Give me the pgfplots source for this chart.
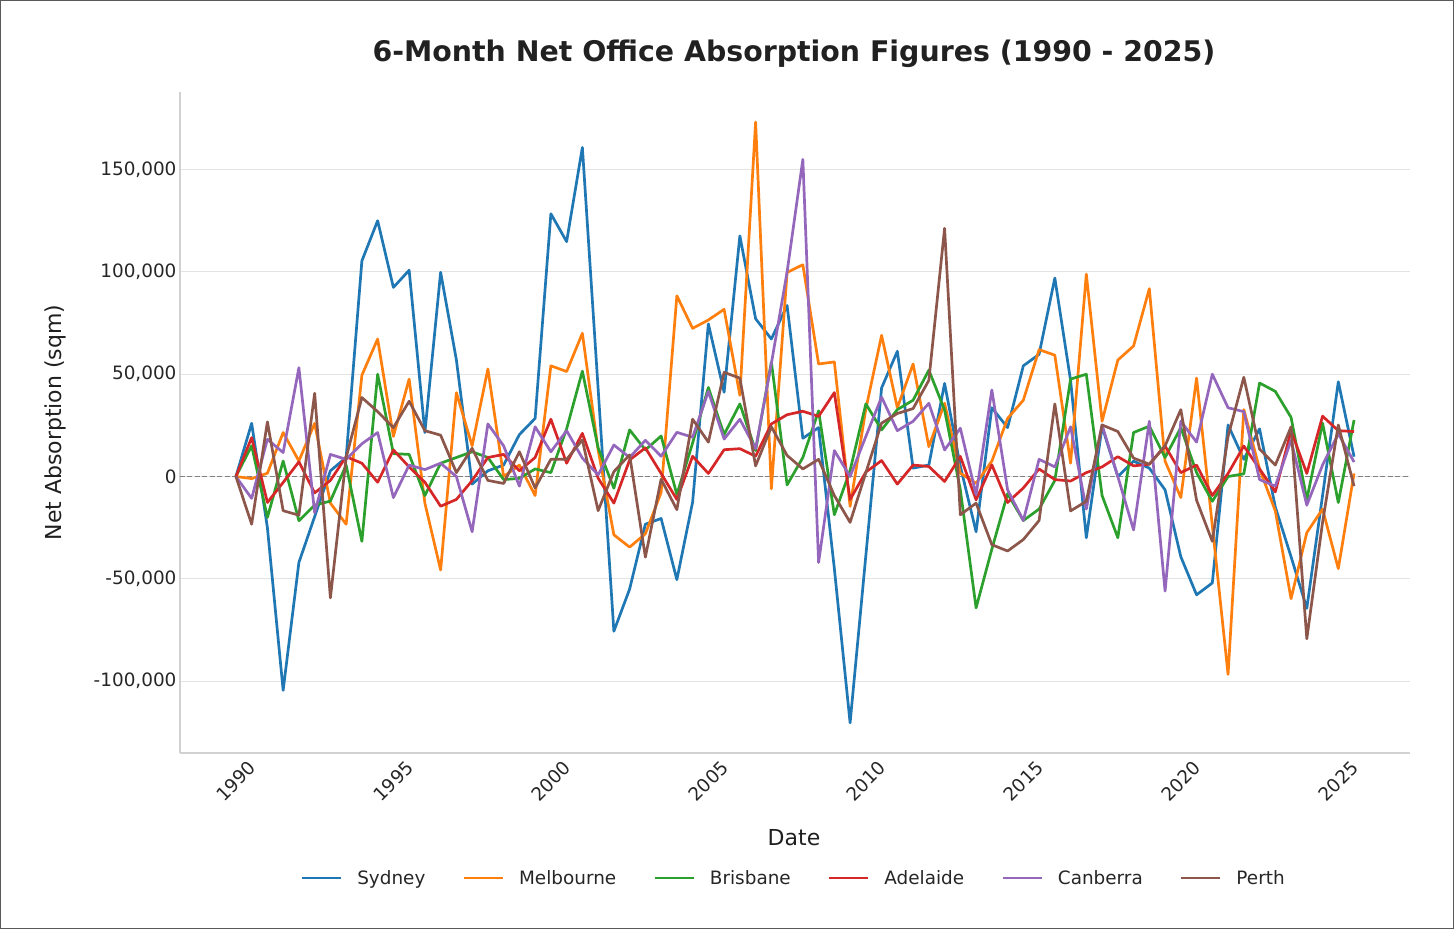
\documentclass[border=0pt]{standalone}
\usepackage{pgfplots}
\pgfplotsset{compat=1.18}
\usepackage{pgfplotstable}
\usepackage{fontspec}
\setmainfont{DejaVu Sans}

\definecolor{cSyd}{HTML}{1F77B4}
\definecolor{cMel}{HTML}{FF7F0E}
\definecolor{cBri}{HTML}{2CA02C}
\definecolor{cAde}{HTML}{D62728}
\definecolor{cCan}{HTML}{9467BD}
\definecolor{cPer}{HTML}{8C564B}

% half-yearly net absorption, sqm
\pgfplotstableread{
year syd mel bri ade can per
1990.0 0 0 0 0 0 0
1990.5 26000 -1000 15000 19000 -10700 -23300
1991.0 -25000 1600 -20000 -12700 18200 26700
1991.5 -104500 21500 7600 -2900 11700 -16700
1992.0 -42000 7600 -21600 7200 53200 -18900
1992.5 -19600 26000 -14000 -8000 -17700 40700
1993.0 2800 -13000 -12000 -1900 10800 -59300
1993.5 9300 -23300 5600 9700 8400 9300
1994.0 105400 49500 -31700 6500 16000 38600
1994.5 125000 67200 50000 -2800 21500 31700
1995.0 92400 19600 11200 13000 -10300 23900
1995.5 100800 47600 10800 4700 5600 36800
1996.0 21500 -13000 -9300 -2800 3400 22400
1996.5 99800 -45700 6500 -14500 6500 20200
1997.0 57000 41000 9300 -11200 0 1900
1997.5 -3700 15000 12100 -2000 -27000 13800
1998.0 2800 52600 9300 9300 25700 -1900
1998.5 5600 0 -1500 10800 15000 -3400
1999.0 20500 5600 -900 2800 -4700 12100
1999.5 28400 -9300 3700 9300 24300 -5600
2000.0 128400 54100 1900 28000 12100 8400
2000.5 114800 51300 23300 6500 22400 8400
2001.0 160800 70000 51500 21100 9000 17900
2001.5 43000 13000 14000 -800 800 -16700
2002.0 -75600 -28500 -5700 -13000 15400 2400
2002.5 -55000 -34500 22800 8100 9300 10600
2003.0 -23300 -28000 13000 14000 17700 -39400
2003.5 -20500 -7800 19800 1500 9900 -1300
2004.0 -50400 88300 -8800 -11200 21600 -16200
2004.5 -12500 72400 16400 9900 19200 28000
2005.0 74600 76500 43500 1500 41600 16800
2005.5 41200 81700 20500 13100 18300 50900
2006.0 117600 39700 35500 13600 28000 48100
2006.5 77100 173200 12700 9900 13600 5200
2007.0 67200 -6000 56000 25700 55200 24300
2007.5 83600 99700 -4100 30200 100000 10300
2008.0 18700 103500 9300 31900 155000 3700
2008.5 23900 55000 32100 29400 -42000 8400
2009.0 -45000 56000 -18700 41000 12700 -9300
2009.5 -120400 -14600 3000 -11200 0 -22400
2010.0 -38600 33000 35500 2200 19600 1900
2010.5 43300 69000 22800 7800 38800 26100
2011.0 61200 33600 32700 -3700 22400 30800
2011.5 4100 55000 37300 5600 27000 33200
2012.0 5600 14600 52000 4900 35800 47000
2012.5 45500 35800 32500 -2400 13000 121300
2013.0 5000 1600 -6500 9800 23600 -18700
2013.5 -27000 -3300 -64200 -11400 -8900 -13000
2014.0 33600 7500 -35500 5700 42300 -33300
2014.5 23900 28400 -8400 -12700 -6500 -36400
2015.0 54100 37300 -21500 -5600 -21500 -30800
2015.5 59700 62000 -15900 3700 8400 -21500
2016.0 97000 59300 -1900 -1500 4700 35500
2016.5 47000 6500 47600 -2200 24300 -16800
2017.0 -29900 98900 50000 1900 -15900 -12100
2017.5 24300 27000 -9300 4700 25200 25200
2018.0 0 56900 -29900 9700 0 22000
2018.5 7500 63800 21500 5200 -26100 9000
2019.0 4100 91800 24600 6000 27000 6000
2019.5 -6500 7500 9300 14900 -56000 15000
2020.0 -39200 -10300 23900 1900 27000 32700
2020.5 -57800 48100 1900 5600 16800 -11600
2021.0 -52000 -24000 -12100 -9300 50000 -31700
2021.5 25200 -96700 0 1500 33600 19600
2022.0 8400 32700 1300 14900 31700 48500
2022.5 23300 3700 45700 3700 -1500 13400
2023.0 -14900 -16800 41600 -7500 -4700 5600
2023.5 -39200 -59700 28900 22400 17700 24300
2024.0 -64400 -27400 -11200 1500 -14000 -79300
2024.5 -9300 -15900 26100 29500 5600 -22400
2025.0 46300 -45000 -12700 22400 20900 25200
2025.5 9700 1500 27600 22000 7100 -4700
}\absdata

\begin{document}
\begin{tikzpicture}
\begin{axis}[
  at={(0pt,0pt)}, anchor=south west,
  scale only axis,
  width=1230pt, height=661pt,
  xmin=1988.225, xmax=2027.275,
  ymin=-135100, ymax=187900,
  axis x line*=bottom, axis y line*=left,
  axis line style={draw=black!18, line width=1.2pt, -},
  major tick length=0pt,
  ymajorgrids=true,
  grid style={draw=black!11, line width=1.1pt},
  scaled y ticks=false,
  xtick={1990,1995,2000,2005,2010,2015,2020,2025},
  xticklabels={1990,1995,2000,2005,2010,2015,2020,2025},
  ytick={-100000,-50000,0,50000,100000,150000},
  yticklabels={{-100,000},{-50,000},0,{50,000},{100,000},{150,000}},
  ticklabel style={font=\fontsize{18.4}{22}\selectfont, text=black!85},
  xticklabel style={anchor=center, yshift=-28pt, rotate=45},
  yticklabel style={anchor=east},
  xlabel={Date},
  ylabel={Net Absorption (sqm)},
  label style={font=\fontsize{22}{26}\selectfont, text=black!88},
  xlabel style={at={(0.4992,-0.1286)}, anchor=center},
  ylabel style={at={(-0.1016,0.5)}, anchor=center},
  title={\bfseries 6-Month Net Office Absorption Figures (1990 - 2025)},
  title style={at={(0.4992,1.0484)}, anchor=center,
    font=\fontsize{28.4}{33}\selectfont, text=black!87},
  legend columns=6,
  legend style={at={(0.4985,-0.189)}, anchor=center, draw=none, fill=none,
    font=\fontsize{18.4}{22}\selectfont, text=black!85,
    nodes={inner sep=1pt},
    /tikz/every odd column/.append style={column sep=14pt},
    /tikz/every even column/.append style={column sep=36pt}},
  legend image code/.code={\draw[#1] (0pt,0pt) -- (39pt,0pt);},
  every axis plot/.append style={line width=2.7pt, line join=round},
]
\draw[black!50, line width=1.3pt, dash pattern=on 5pt off 2.5pt]
  (axis cs:1988.225,0) -- (axis cs:2027.275,0);
\addplot[cSyd] table[x=year, y=syd] {\absdata};
\addlegendentry{Sydney}
\addplot[cMel] table[x=year, y=mel] {\absdata};
\addlegendentry{Melbourne}
\addplot[cBri] table[x=year, y=bri] {\absdata};
\addlegendentry{Brisbane}
\addplot[cAde] table[x=year, y=ade] {\absdata};
\addlegendentry{Adelaide}
\addplot[cCan] table[x=year, y=can] {\absdata};
\addlegendentry{Canberra}
\addplot[cPer] table[x=year, y=per] {\absdata};
\addlegendentry{Perth}
\end{axis}
\draw[black!65, line width=1pt] (-179.5pt,-175.5pt) rectangle (1273.5pt,752.5pt);
\end{tikzpicture}
\end{document}
